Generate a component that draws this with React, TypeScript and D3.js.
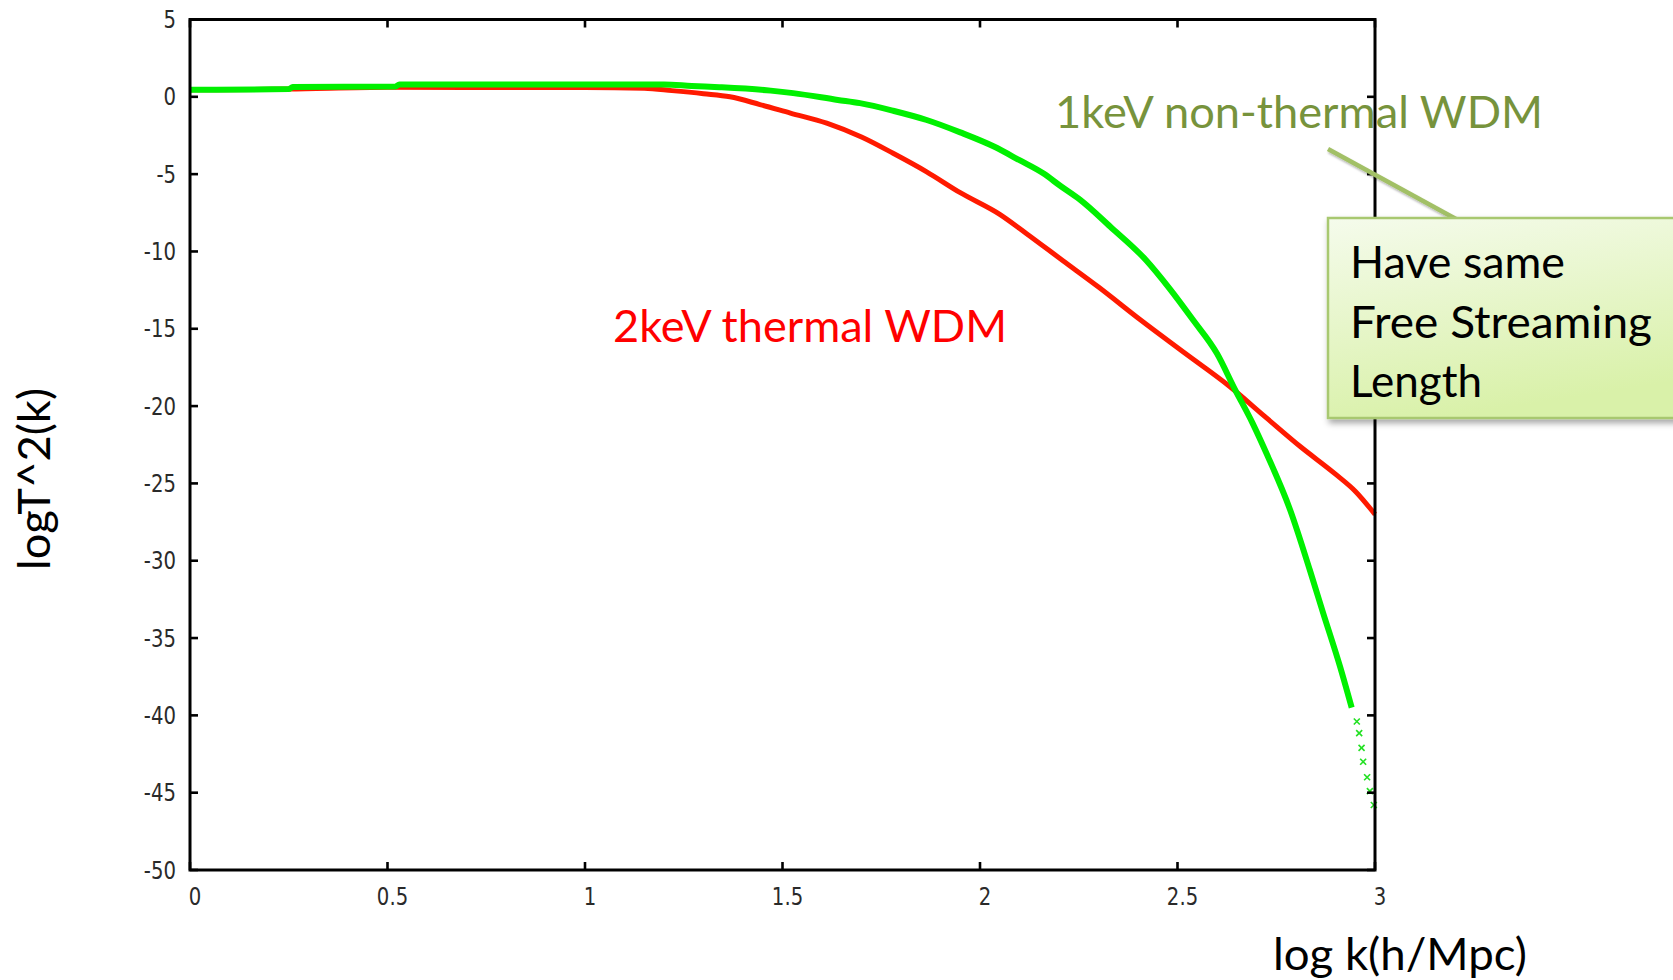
import React from "react";
import * as d3 from "d3";

// ---- data ----
const xTicks = [0, 0.5, 1, 1.5, 2, 2.5, 3];
const xTickLabels = ["0", "0.5", "1", "1.5", "2", "2.5", "3"];
const yTicks = [5, 0, -5, -10, -15, -20, -25, -30, -35, -40, -45, -50];
const yTickLabels = ["5", "0", "-5", "-10", "-15", "-20", "-25", "-30", "-35", "-40", "-45", "-50"];

// 2keV thermal WDM (red)
const redK = [0, 0.25, 0.5, 0.9, 1.0, 1.15, 1.22, 1.3, 1.367, 1.443, 1.52, 1.612, 1.7, 1.78, 1.865, 1.95, 2.05, 2.118, 2.21, 2.3, 2.405, 2.52, 2.633, 2.72, 2.81, 2.9, 2.95, 3.0];
const redT = [0.45, 0.5, 0.62, 0.6, 0.6, 0.55, 0.4, 0.2, 0.0, -0.5, -1.05, -1.7, -2.6, -3.65, -4.85, -6.2, -7.6, -8.85, -10.6, -12.3, -14.4, -16.6, -18.75, -20.65, -22.6, -24.4, -25.5, -27.0];

// 1keV non-thermal WDM (green), dense part
const greenK = [0, 0.25, 0.26, 0.52, 0.53, 1.2, 1.27, 1.34, 1.47, 1.527, 1.64, 1.696, 1.78, 1.865, 1.95, 2.034, 2.1, 2.16, 2.203, 2.253, 2.33, 2.42, 2.48, 2.54, 2.6, 2.645, 2.69, 2.726, 2.785, 2.835, 2.869, 2.911, 2.941];
const greenT = [0.45, 0.5, 0.63, 0.66, 0.8, 0.8, 0.7, 0.62, 0.4, 0.24, -0.2, -0.41, -0.9, -1.5, -2.3, -3.2, -4.1, -4.95, -5.75, -6.65, -8.4, -10.55, -12.4, -14.45, -16.6, -18.9, -21.1, -23.1, -26.7, -30.6, -33.4, -36.8, -39.5];
// green sparse tail (isolated markers)
const greenTailK = [2.954, 2.96, 2.966, 2.97, 2.98, 2.987, 2.997];
const greenTailT = [-40.4, -41.15, -42.1, -43.0, -44.0, -44.9, -45.8];

const W = 1673;
const H = 980;
const CAL = "Lato, 'Open Sans', 'DejaVu Sans', sans-serif";

export default function App() {
  const x = d3.scaleLinear().domain([0, 3]).range([190, 1375]);
  const y = d3.scaleLinear().domain([-50, 5]).range([870, 19.5]);

  const mk = (ks: number[], ts: number[]) =>
    d3
      .line<number>()
      .x((k) => x(k))
      .y((_, i) => y(ts[i]))
      .curve(d3.curveMonotoneX)(ks) as string;

  const redPath = mk(redK, redT);
  const greenPath = mk(greenK, greenT);

  const [x0, x1] = x.range();
  const [y0, y1] = y.range();
  const tickLen = 8;

  return (
    <svg
      width={W}
      height={H}
      style={{ position: "absolute", left: 0, top: 0, background: "#fff" }}
    >
      <defs>
        <linearGradient id="boxg" x1="0" y1="0" x2="0.3" y2="1">
          <stop offset="0" stopColor="#f5fbec" />
          <stop offset="1" stopColor="#d9f1a9" />
        </linearGradient>
        <filter id="shadow" x="-10%" y="-10%" width="130%" height="140%">
          <feDropShadow dx="2" dy="4" stdDeviation="3" floodColor="#000" floodOpacity="0.35" />
        </filter>
        <filter id="lshadow" x="-10%" y="-50%" width="130%" height="300%">
          <feDropShadow dx="1" dy="2" stdDeviation="1.2" floodColor="#000" floodOpacity="0.3" />
        </filter>
      </defs>

      {/* curves */}
      <path d={redPath} fill="none" stroke="#ff1a00" strokeWidth={5} strokeLinejoin="round" />
      <path d={greenPath} fill="none" stroke="#00f000" strokeWidth={6} strokeLinejoin="round" />
      {greenTailK.map((k, i) => {
        const cx = x(k);
        const cy = y(greenTailT[i]);
        return (
          <g key={"t" + i} stroke="#22e022" strokeWidth={1.6}>
            <line x1={cx - 3} y1={cy - 3} x2={cx + 3} y2={cy + 3} />
            <line x1={cx - 3} y1={cy + 3} x2={cx + 3} y2={cy - 3} />
          </g>
        );
      })}

      {/* frame */}
      <rect x={x0} y={y1} width={x1 - x0} height={y0 - y1} fill="none" stroke="#000" strokeWidth={3} />
      {/* ticks */}
      {yTicks.map((v) => (
        <g key={"yt" + v} stroke="#000" strokeWidth={2.6}>
          <line x1={x0} x2={x0 + tickLen} y1={y(v)} y2={y(v)} />
          <line x1={x1} x2={x1 - tickLen} y1={y(v)} y2={y(v)} />
        </g>
      ))}
      {xTicks.map((v) => (
        <g key={"xt" + v} stroke="#000" strokeWidth={2.6}>
          <line x1={x(v)} x2={x(v)} y1={y0} y2={y0 - tickLen} />
          <line x1={x(v)} x2={x(v)} y1={y1} y2={y1 + tickLen} />
        </g>
      ))}
      {/* tick labels */}
      {yTicks.map((v, i) => (
        <text
          key={"yl" + v}
          transform={`translate(176, ${y(v) + 8.5}) scale(0.82,1)`}
          textAnchor="end"
          fontFamily="'DejaVu Sans', sans-serif"
          fontSize={24}
          fill="#2a2a2a"
        >
          {yTickLabels[i]}
        </text>
      ))}
      {xTicks.map((v, i) => (
        <text
          key={"xl" + v}
          transform={`translate(${x(v) + 5}, 905) scale(0.82,1)`}
          textAnchor="middle"
          fontFamily="'DejaVu Sans', sans-serif"
          fontSize={24}
          fill="#2a2a2a"
        >
          {xTickLabels[i]}
        </text>
      ))}

      {/* axis titles */}
      <text
        transform="translate(50, 570) rotate(-90)"
        fontFamily={CAL}
        fontSize={44}
        fill="#000"
        textLength={182}
        lengthAdjust="spacingAndGlyphs"
      >
        logT^2(k)
      </text>
      <text x={1273} y={970} fontFamily={CAL} fontSize={44} fill="#000" textLength={254} lengthAdjust="spacingAndGlyphs">
        log k(h/Mpc)
      </text>

      {/* annotations */}
      <line x1={1328} y1={149} x2={1456} y2={219} stroke="#a2c066" strokeWidth={4.5} filter="url(#lshadow)" />
      <line x1={1034} y1={322} x2={1330} y2={322} stroke="#a2c066" strokeWidth={5} filter="url(#lshadow)" />
      <rect
        x={1328}
        y={218}
        width={380}
        height={200}
        fill="url(#boxg)"
        stroke="#a8c870"
        strokeWidth={2.5}
        filter="url(#shadow)"
      />
      <text x={1350} y={278} fontFamily={CAL} fontSize={44} fill="#000" textLength={215} lengthAdjust="spacingAndGlyphs">
        Have same
      </text>
      <text x={1350} y={338} fontFamily={CAL} fontSize={44} fill="#000" textLength={302} lengthAdjust="spacingAndGlyphs">
        Free Streaming
      </text>
      <text x={1350} y={397} fontFamily={CAL} fontSize={44} fill="#000" textLength={132} lengthAdjust="spacingAndGlyphs">
        Length
      </text>
      <text x={1055} y={128} fontFamily={CAL} fontSize={44} fill="#77933c" textLength={488} lengthAdjust="spacingAndGlyphs">
        1keV non-thermal WDM
      </text>
      <text x={613} y={342} fontFamily={CAL} fontSize={44} fill="#ff0000" textLength={394} lengthAdjust="spacingAndGlyphs">
        2keV thermal WDM
      </text>
    </svg>
  );
}
